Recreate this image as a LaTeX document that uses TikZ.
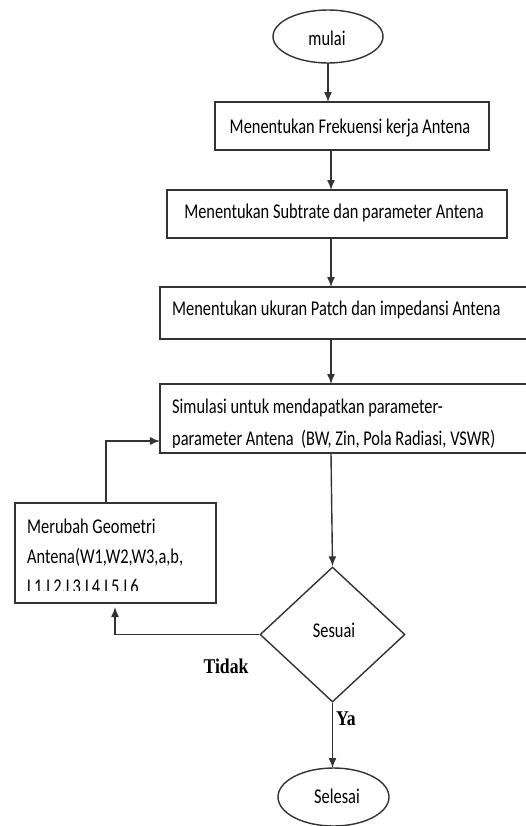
\documentclass[tikz,border=0pt]{standalone}
\usepackage{fontspec}
\setmainfont{Carlito}[FakeStretch=0.78]
\newfontfamily\tnr{Liberation Serif}[FakeStretch=0.84]
\usetikzlibrary{shapes.geometric,arrows.meta,calc}
\tikzset{
  ln/.style={draw=black!80, line width=1.4bp},
  box/.style={ln, rectangle, inner sep=0pt, outer sep=0pt},
  term/.style={ln, ellipse, inner sep=0pt, outer sep=0pt},
  arr/.style={ln, -{Latex[length=10bp,width=8bp]}},
  txt/.style={inner sep=0pt, anchor=base west},
  lab/.style={inner sep=0pt, font=\tnr\bfseries\fontsize{21bp}{24bp}\selectfont}
}
\begin{document}
\begin{tikzpicture}[x=1bp,y=-1bp, every node/.append style={font=\fontsize{21bp}{24bp}\selectfont}]
\useasboundingbox (0,0) rectangle (526,826);
\fill[white] (0,0) rectangle (526,826);
\clip (0,0) rectangle (526,826);

% terminals
\node[term, minimum width=110bp, minimum height=53bp] (mulai) at (328,36.5) {};
\node[inner sep=0pt, anchor=base] (tm) at (327,45) {mulai};
\node[term, minimum width=111bp, minimum height=58bp] (selesai) at (333.5,797) {};
\node[inner sep=0pt, anchor=base] (ts) at (337,803) {Selesai};

% process boxes
\node[box, minimum width=274bp, minimum height=48bp] (b1) at (352,126) {};
\node[box, minimum width=340bp, minimum height=48bp] (b2) at (337,214) {};
\node[box, minimum width=370bp, minimum height=52bp] (b3) at (345,313) {};
\node[box, minimum width=370bp, minimum height=69bp] (b4) at (345,418.5) {};
\node[box, minimum width=201bp, minimum height=100bp] (b5) at (115.5,553) {};

% decision
\node[ln, diamond, inner sep=0pt, minimum width=145bp, minimum height=135bp] (dia) at (332.5,634.5) {};
\node[inner sep=0pt, anchor=base] (sesuai) at (334,637) {Sesuai};

% texts in boxes
\node[inner sep=0pt, anchor=base] (t1) at (350,133) {Menentukan Frekuensi kerja Antena};
\node[inner sep=0pt, anchor=base] (t2) at (334,218) {Menentukan Subtrate dan parameter Antena};
\node[txt] (t3) at (172,315) {Menentukan ukuran Patch dan impedansi Antena};
\begin{scope}
  \clip (b4.north west) rectangle (526,447);
  \node[txt] (t4a) at (172,413) {Simulasi untuk mendapatkan parameter-};
  \node[txt] (t4b) at (172,445) {parameter Antena\ \ (BW, Zin, Pola Radiasi, VSWR)};
\end{scope}
\begin{scope}
  \clip (b5.north west) rectangle (216,590);
  \node[txt] (t5a) at (27,533) {Merubah Geometri};
  \node[txt] (t5b) at (27,563) {Antena(W1,W2,W3,a,b,};
  \node[txt] (t5c) at (27,593) {L1,L2,L3,L4,L5,L6};
\end{scope}

% labels
\node[lab] (tidak) at (226,666) {Tidak};
\node[lab] (ya) at (346,719) {Ya};

% connectors
\coordinate (ax) at (331,0);
\coordinate (lx) at (106,0);
\coordinate (tx) at (115,0);
\coordinate (ly) at (0,441);
\draw[arr] (mulai.south) -- (mulai.south |- b1.north);
\draw[arr] (ax |- b1.south) -- (ax |- b2.north);
\draw[arr] (ax |- b2.south) -- (ax |- b3.north);
\draw[arr] (ax |- b3.south) -- (ax |- b4.north);
\draw[arr] (ax |- b4.south) -- (dia.north);
\draw[arr] (dia.south) -- (dia.south |- selesai.north);
\draw[arr] (dia.west) -| ($(tx |- b5.south)+(0,4)$);
\draw[arr] (lx |- b5.north) |- (b4.west |- ly);
\end{tikzpicture}
\end{document}
